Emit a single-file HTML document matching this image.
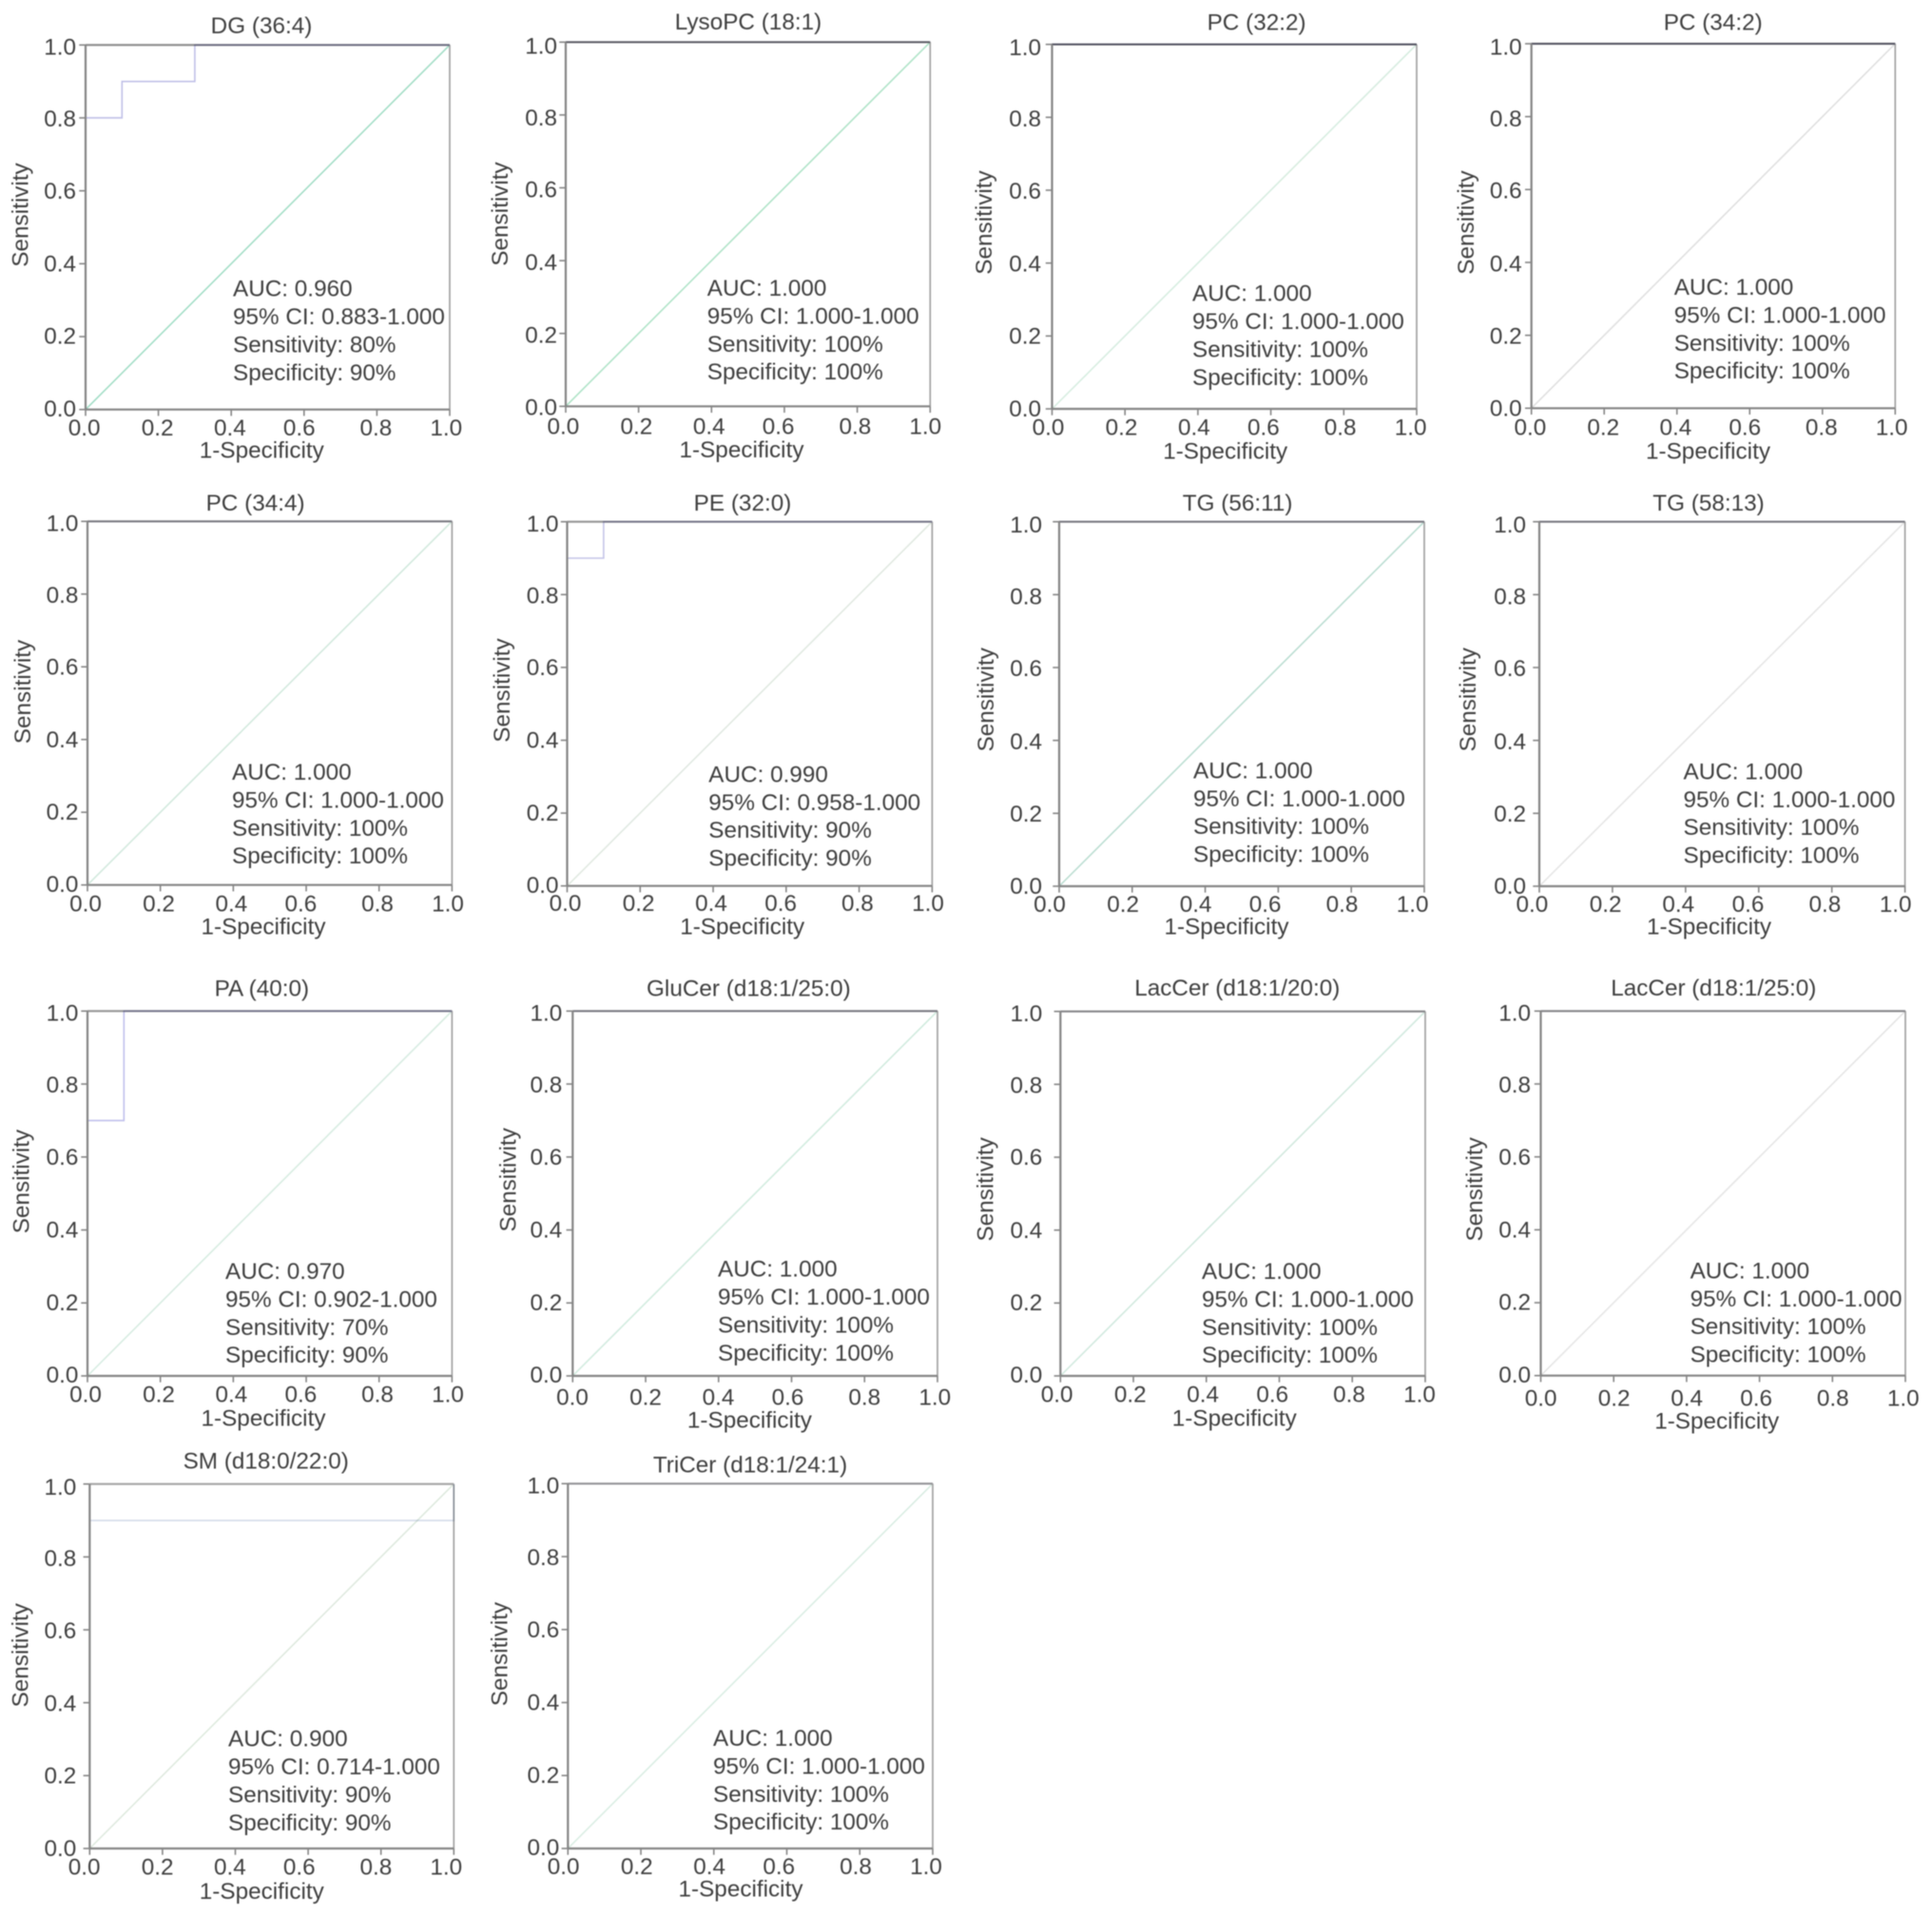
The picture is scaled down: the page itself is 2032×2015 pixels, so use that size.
<!DOCTYPE html>
<html lang="en">
<head>
<meta charset="utf-8">
<title>ROC curves of lipid species</title>
<style>
  html, body { margin: 0; padding: 0; background: #ffffff; }
  body { width: 2032px; height: 2015px; overflow: hidden; }
  #figure { display: block; filter: blur(0.6px); }
  #figure text { font-family: "Liberation Sans", Arial, sans-serif; font-size: 24.3px; fill: #3f3f3f; }
</style>
</head>
<body>
<svg id="figure" xmlns="http://www.w3.org/2000/svg" width="2032" height="2015" viewBox="0 0 2032 2015"></svg>
<script>
// ---------- chart data ----------
const titles = ["DG (36:4)", "LysoPC (18:1)", "PC (32:2)", "PC (34:2)", "PC (34:4)", "PE (32:0)", "TG (56:11)", "TG (58:13)", "PA (40:0)", "GluCer (d18:1/25:0)", "LacCer (d18:1/20:0)", "LacCer (d18:1/25:0)", "SM (d18:0/22:0)", "TriCer (d18:1/24:1)"];
const fprSeries = [
  [0, 0, 0.1, 0.1, 0.3, 0.3, 1],
  [0, 0, 1], [0, 0, 1], [0, 0, 1], [0, 0, 1],
  [0, 0, 0.1, 0.1, 1],
  [0, 0, 1], [0, 0, 1],
  [0, 0, 0.1, 0.1, 1],
  [0, 0, 1], [0, 0, 1], [0, 0, 1],
  [0, 0, 1, 1],
  [0, 0, 1]
];
const tprSeries = [
  [0, 0.8, 0.8, 0.9, 0.9, 1, 1],
  [0, 1, 1], [0, 1, 1], [0, 1, 1], [0, 1, 1],
  [0, 0.9, 0.9, 1, 1],
  [0, 1, 1], [0, 1, 1],
  [0, 0.7, 0.7, 1, 1],
  [0, 1, 1], [0, 1, 1], [0, 1, 1],
  [0, 0.9, 0.9, 1],
  [0, 1, 1]
];
const refX = [0, 1];
const refY = [0, 1];
const aucValues = ["0.960", "1.000", "1.000", "1.000", "1.000", "0.990", "1.000", "1.000", "0.970", "1.000", "1.000", "1.000", "0.900", "1.000"];
const ciValues = ["0.883-1.000", "1.000-1.000", "1.000-1.000", "1.000-1.000", "1.000-1.000", "0.958-1.000", "1.000-1.000", "1.000-1.000", "0.902-1.000", "1.000-1.000", "1.000-1.000", "1.000-1.000", "0.714-1.000", "1.000-1.000"];
const sensitivityValues = [80, 100, 100, 100, 100, 90, 100, 100, 70, 100, 100, 100, 90, 100];
const specificityValues = [90, 100, 100, 100, 100, 90, 100, 100, 90, 100, 100, 100, 90, 100];
const tickValues = [0, 0.2, 0.4, 0.6, 0.8, 1];
const tickLabels = ["0.0", "0.2", "0.4", "0.6", "0.8", "1.0"];
const xAxisTitle = "1-Specificity";
const yAxisTitle = "Sensitivity";

// ---------- panel layout (pixels and colours, not data) ----------
const layouts = [
  {L:90,R:473,T:47.3,B:430.7,tc:275,tb:35,yb:29.3,yc:226,sx:245,sb:311.7,xc:275.3,xb:481.7,lx:0,ly:0,yr:10,xl:18.7,d:"#9fdcc4",c:"#c0c0e8",top:"#8c8c8c"},
  {L:595,R:978.3,T:44.3,B:427.3,tc:787,tb:31,yb:534,yc:225,sx:743.8,sb:311,xc:780,xb:481,lx:-1.3,ly:2,yr:9,xl:21,d:"#ace2c6",c:"#a0a0b0",top:"#8c8c8c"},
  {L:1106.5,R:1490,T:46.7,B:430,tc:1321.6,tb:31.5,yb:1043,yc:234,sx:1254,sb:316.7,xc:1288.7,xb:482.7,lx:-2.7,ly:0.7,yr:11.5,xl:19.3,d:"#d5ecdf",c:"#8888a8",top:"#8c8c8c"},
  {L:1610.7,R:1993.3,T:46,B:429.3,tc:1801.7,tb:31.5,yb:1550,yc:234,sx:1760.7,sb:310,xc:1796.5,xb:482.7,lx:0,ly:1.3,yr:10,xl:20,d:"#dedede",c:"#8888a8",top:"#8c8c8c"},
  {L:92,R:475.4,T:548.3,B:930.7,tc:268.6,tb:537,yb:31.8,yc:727.5,sx:244,sb:820,xc:277,xb:982.7,lx:-0.7,ly:0,yr:9.6,xl:19.3,d:"#d0e8dc",c:"#c8c8d8",top:"#969696"},
  {L:596.5,R:980.4,T:548.7,B:931.7,tc:781,tb:537,yb:536,yc:726,sx:745.3,sb:822.4,xc:780.7,xb:982.7,lx:-0.7,ly:0,yr:9,xl:17.7,d:"#dfe8e0",c:"#c4c4e8",top:"#969696"},
  {L:1114,R:1498,T:548.7,B:932,tc:1301.6,tb:537,yb:1044.8,yc:735.8,sx:1255,sb:818.4,xc:1290,xb:982.7,lx:-8.7,ly:1,yr:18,xl:18.7,d:"#b8dcd0",c:"#c8c8d8",top:"#969696"},
  {L:1619,R:2003.6,T:548.7,B:932,tc:1797,tb:537,yb:1551.8,yc:735.8,sx:1770.5,sb:819.4,xc:1797.5,xb:982.7,lx:-6.3,ly:1,yr:14,xl:18.7,d:"#e4e4e4",c:"#c8c8d8",top:"#969696"},
  {L:92,R:475.4,T:1063.3,B:1447,tc:275.4,tb:1047.7,yb:30.5,yc:1242.5,sx:237,sb:1345,xc:277,xb:1499.4,lx:-0.7,ly:0,yr:9.6,xl:19,d:"#d5ebe0",c:"#c0c0ec",top:"#969696"},
  {L:602.3,R:986,T:1063.3,B:1447,tc:787.4,tb:1047.7,yb:542.6,yc:1240.8,sx:755,sb:1342.7,xc:788.4,xb:1501.7,lx:1,ly:0,yr:11,xl:22.3,d:"#cfeadd",c:"#c8c8d8",top:"#969696"},
  {L:1115.3,R:1499,T:1063.7,B:1447,tc:1301.3,tb:1047,yb:1044.3,yc:1250.8,sx:1264,sb:1345,xc:1298.3,xb:1499.4,lx:-2.3,ly:0,yr:19,xl:19,d:"#cfe8dd",c:"#d8d8e0",top:"#9a9a9a"},
  {L:1620.5,R:2004,T:1063.3,B:1446.7,tc:1802.3,tb:1047,yb:1559,yc:1250.8,sx:1777.6,sb:1344.4,xc:1805.7,xb:1502.7,lx:1.5,ly:0,yr:10.5,xl:23.3,d:"#e4e4e4",c:"#d8d8e0",top:"#9a9a9a"},
  {L:94.3,R:477.3,T:1560.7,B:1944,tc:279.7,tb:1544.4,yb:29.3,yc:1740.8,sx:240,sb:1836.7,xc:275.3,xb:1997,lx:-4.3,ly:0.7,yr:14,xl:19.3,d:"#dde8dd",c:"#d4dcea",top:"#a4a4a4"},
  {L:597.3,R:981,T:1560.3,B:1944,tc:789,tb:1548.4,yb:533.6,yc:1739.5,sx:750,sb:1836,xc:779,xb:1994.4,lx:-3.3,ly:0,yr:9,xl:18.7,d:"#d8ece2",c:"#e0e0e8",top:"#a4a4a4"}
];
const nudgeX = [-1.3, -1, -1.3, -5, -1, -3.7];
const nudgeY = [-1.3, -0.7, -0.3, -0.3, 0.7, 2];
const statStep = 29.4;
const tickLen = 6.7;
const digitHalf = 8.4;

// ---------- drawing ----------
const NS = "http://www.w3.org/2000/svg";
const figure = document.getElementById("figure");

function make(tag, parent) {
  const el = document.createElementNS(NS, tag);
  parent.appendChild(el);
  return el;
}
function seg(parent, x1, y1, x2, y2, color, width) {
  const l = make("line", parent);
  l.setAttribute("x1", x1);
  l.setAttribute("y1", y1);
  l.setAttribute("x2", x2);
  l.setAttribute("y2", y2);
  l.setAttribute("stroke", color);
  l.setAttribute("stroke-width", width);
  return l;
}
function label(parent, x, y, str, anchor) {
  const t = make("text", parent);
  t.setAttribute("x", x);
  t.setAttribute("y", y);
  t.setAttribute("text-anchor", anchor);
  t.textContent = str;
  return t;
}
function pathFrom(xs, ys, sx, sy) {
  return xs.map(function (v, i) {
    return (i ? "L" : "M") + sx(v).toFixed(2) + " " + sy(ys[i]).toFixed(2);
  }).join(" ");
}

titles.forEach(function (title, i) {
  const p = layouts[i];
  const sx = function (v) { return p.L + v * (p.R - p.L); };
  const sy = function (v) { return p.B - v * (p.B - p.T); };

  const g = make("g", figure);
  
  

  const titleEl = label(g, p.tc, p.tb, title, "middle");
  
  

  const refLine = make("path", g);
  
  
  refLine.setAttribute("d", pathFrom(refX, refY, sx, sy));
  refLine.setAttribute("fill", "none");
  refLine.setAttribute("stroke", p.d);
  refLine.setAttribute("stroke-width", "1.5");

  const axisRight = seg(g, p.R, p.T, p.R, p.B, "#a2a2a2", 1.7);
  
  

  const axisTop = seg(g, p.L, p.T, p.R, p.T, p.top, 2.2);
  
  

  // multiplied over the frame so the edge darkens where the curve runs along it
  const curve = make("path", g);
  
  
  curve.setAttribute("d", pathFrom(fprSeries[i], tprSeries[i], sx, sy));
  curve.setAttribute("fill", "none");
  curve.setAttribute("stroke", p.c);
  curve.setAttribute("stroke-width", "1.6");
  curve.setAttribute("style", "mix-blend-mode:multiply");

  const axisLeft = seg(g, p.L, p.T, p.L, p.B, "#858585", 2.2);
  
  

  const axisBottom = seg(g, p.L, p.B, p.R, p.B, "#858585", 2.2);
  
  

  tickValues.forEach(function (v, k) {
    const xt = seg(g, sx(v), p.B, sx(v), p.B + tickLen, "#858585", 1.6);
    
    

    const yt = seg(g, p.L, sy(v), p.L - tickLen, sy(v), "#858585", 1.6);
    
    

    const xl = label(g, sx(v) + nudgeX[k] + p.lx, p.B + p.xl + digitHalf, tickLabels[k], "middle");
    
    

    const yl = label(g, p.L - p.yr, sy(v) + nudgeY[k] + p.ly + digitHalf, tickLabels[k], "end");
    
    
  });

  const xTitle = label(g, p.xc, p.xb, xAxisTitle, "middle");
  
  

  const yTitle = label(g, 0, 0, yAxisTitle, "middle");
  
  
  yTitle.setAttribute("transform", "translate(" + p.yb + " " + p.yc + ") rotate(-90)");

  const aucText = label(g, p.sx, p.sb, "AUC: " + aucValues[i], "start");
  
  

  const ciText = label(g, p.sx, p.sb + statStep, "95% CI: " + ciValues[i], "start");
  
  

  const sensText = label(g, p.sx, p.sb + 2 * statStep, "Sensitivity: " + sensitivityValues[i] + "%", "start");
  
  

  const specText = label(g, p.sx, p.sb + 3 * statStep, "Specificity: " + specificityValues[i] + "%", "start");
  
  
});
</script>
</body>
</html>
